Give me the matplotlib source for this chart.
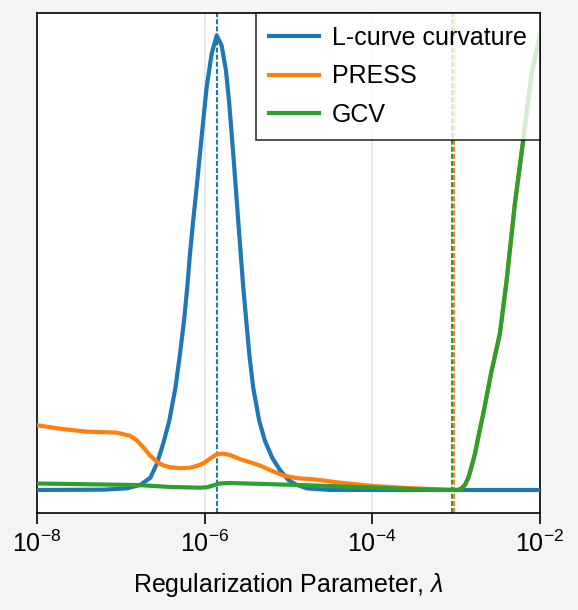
import matplotlib
matplotlib.use('Agg')
import matplotlib.pyplot as plt
import matplotlib.ticker as mticker
import numpy as np

plt.rcParams['font.family'] = ['Liberation Sans', 'DejaVu Sans']
plt.rcParams['font.size'] = 9
plt.rcParams['mathtext.fontset'] = 'custom'
plt.rcParams['mathtext.rm'] = 'Liberation Sans'
plt.rcParams['mathtext.it'] = 'Liberation Sans:italic'
plt.rcParams['mathtext.bf'] = 'Liberation Sans:bold'

# log10(lambda) and normalised score for each criterion
lcurve_loglam = [-8.0, -7.204, -6.926, -6.768, -6.648, -6.569, -6.491, -6.422,
                 -6.348, -6.294, -6.246, -6.207, -6.175, -6.136, -6.095,
                 -6.056, -6.016, -5.976, -5.916, -5.856, -5.797, -5.745,
                 -5.706, -5.658, -5.599, -5.539, -5.467, -5.420, -5.348,
                 -5.280, -5.191, -5.101, -5.006, -4.910, -4.783, -4.505, -2.0]
lcurve_val = [0.0, 0.0007, 0.0037, 0.011, 0.027, 0.058, 0.104, 0.152,
              0.225, 0.299, 0.372, 0.446, 0.519, 0.593, 0.666,
              0.739, 0.813, 0.886, 0.960, 1.0, 0.978, 0.923,
              0.850, 0.739, 0.593, 0.446, 0.299, 0.225, 0.152,
              0.108, 0.070, 0.044, 0.023, 0.012, 0.0037, 0.0, 0.0]

press_loglam = [-8.0, -7.682, -7.404, -7.046, -6.887, -6.807, -6.727, -6.652,
                -6.569, -6.491, -6.410, -6.294, -6.175, -6.091, -6.014,
                -5.936, -5.853, -5.778, -5.698, -5.578, -5.459, -5.340,
                -5.221, -5.062, -4.898, -4.704, -4.385, -3.988, -3.511,
                -3.030, -2.978, -2.934, -2.894, -2.855, -2.823, -2.775,
                -2.727, -2.676, -2.576, -2.477, -2.397, -2.298, -2.199,
                -2.099, -2.0]
press_val = [0.1425, 0.1337, 0.1284, 0.1262, 0.119, 0.109, 0.093, 0.076,
             0.062, 0.054, 0.050, 0.048, 0.049, 0.053, 0.059,
             0.069, 0.079, 0.080, 0.077, 0.068, 0.061, 0.054,
             0.044, 0.032, 0.026, 0.0236, 0.0161, 0.0088, 0.0037,
             0.0, 0.0, 0.0033, 0.011, 0.026, 0.046, 0.079,
             0.123, 0.167, 0.262, 0.344, 0.460, 0.630, 0.769,
             0.916, 1.0]

gcv_loglam = [-8.0, -7.404, -6.807, -6.410, -6.052, -5.972, -5.900, -5.817,
              -5.698, -5.181, -4.505, -3.988, -3.471, -3.053, -2.978,
              -2.934, -2.894, -2.855, -2.823, -2.775, -2.727, -2.676,
              -2.576, -2.477, -2.397, -2.298, -2.199, -2.099, -2.0]
gcv_val = [0.0143, 0.0126, 0.011, 0.0066, 0.0051, 0.006, 0.0099, 0.0143,
           0.0154, 0.0126, 0.0088, 0.0051, 0.0015, 0.0, 0.0,
           0.0033, 0.011, 0.026, 0.046, 0.079, 0.123, 0.167,
           0.262, 0.344, 0.460, 0.630, 0.769, 0.916, 1.0]

# selected lambda for each criterion
best_lambda = {'L-curve curvature': 1.4e-6, 'PRESS': 9.4e-4, 'GCV': 8.85e-4}

colors = {'L-curve curvature': '#1f77b4', 'PRESS': '#ff7f0e', 'GCV': '#2ca02c'}


def main():
    fig = plt.figure(figsize=(2.89, 3.05), dpi=200, facecolor='#f4f4f4')
    ax = fig.add_axes([0.064, 0.1595, 0.870, 0.8195])

    series = [
        ('L-curve curvature', lcurve_loglam, lcurve_val),
        ('PRESS', press_loglam, press_val),
        ('GCV', gcv_loglam, gcv_val),
    ]
    for name, loglam, val in series:
        ax.plot(10.0 ** np.asarray(loglam), val, color=colors[name],
                lw=1.5, label=name, zorder=3, solid_joinstyle='round')
    for name in ['L-curve curvature', 'GCV', 'PRESS']:
        ax.axvline(best_lambda[name], color=colors[name], lw=0.75,
                   ls=(0, (2.4, 1.0)), zorder=2.5)

    ax.set_xscale('log')
    ax.set_xlim(1e-8, 1e-2)
    ax.set_ylim(-0.05, 1.05)
    ax.xaxis.set_major_locator(mticker.LogLocator(base=100.0))
    ax.xaxis.set_minor_locator(mticker.NullLocator())
    ax.set_yticks([])
    ax.tick_params(axis='x', length=4, width=0.6, pad=2.5, labelsize=9)
    for sp in ax.spines.values():
        sp.set_linewidth(0.6)
    ax.grid(axis='x', color='black', alpha=0.1, lw=0.6, zorder=0)
    ax.set_axisbelow(True)
    ax.set_xlabel(r'Regularization Parameter, $\lambda$', fontsize=9,
                  labelpad=5)

    leg = ax.legend(loc='upper right', borderaxespad=0, fancybox=False,
                    framealpha=0.8, edgecolor='black', fontsize=9,
                    borderpad=0.52, handletextpad=0.5, labelspacing=0.58)
    leg.get_frame().set_linewidth(0.6)
    leg.set_zorder(5)

    fig.savefig('out.png', dpi=200, facecolor=fig.get_facecolor())


if __name__ == '__main__':
    main()
